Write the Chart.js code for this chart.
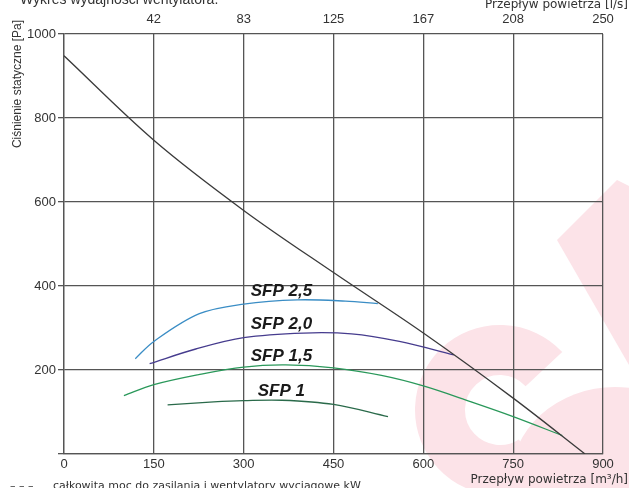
<!DOCTYPE html>
<html>
<head>
<meta charset="utf-8">
<script src="https://cdn.jsdelivr.net/npm/chart.js@4"></script>
<style>
  html, body { margin: 0; padding: 0; background: #fff; }
  #fanChart { display: block; }
</style>
</head>
<body>
<canvas id="fanChart" width="629" height="488"></canvas>
<script>
// Tick values
const flowTicks = [0, 150, 300, 450, 600, 750, 900];          // m3/h
const flowLsLabels = ['42', '83', '125', '167', '208', '250'];  // l/s, same positions
const pressureTicks = [0, 200, 400, 600, 800, 1000];           // Pa

// System (fan) curve
const systemFlow = [0, 150, 300, 450, 600, 750, 870];
const systemPressure = [948, 747, 580, 432, 288, 133, 0];

// SFP curves
const sfpNames = ['SFP 2,5', 'SFP 2,0', 'SFP 1,5', 'SFP 1'];
const sfp25Flow = [119, 150, 226, 300, 390, 470, 524];
const sfp25Pressure = [227, 268, 334, 357, 367, 364, 358];
const sfp20Flow = [143, 220, 300, 400, 480, 560, 651];
const sfp20Pressure = [215, 250, 277, 288, 286, 268, 236];
const sfp15Flow = [100, 150, 225, 300, 370, 450, 530, 600, 680, 750, 832];
const sfp15Pressure = [139, 165, 189, 207, 212, 205, 187, 162, 124, 89, 44];
const sfp10Flow = [173, 250, 300, 364, 450, 541];
const sfp10Pressure = [117, 124, 127, 128, 118, 89];

const toPoints = (xs, ys) => xs.map((x, i) => ({ x: x, y: ys[i] }));

const lineDefaults = {
    borderWidth: 1.3,
    pointRadius: 0,
    fill: false,
    tension: 0.35
};

// light pink logo in the background
const watermark = {
    id: 'watermark',
    beforeDraw(chart) {
        const ctx = chart.ctx;
        ctx.save();
        ctx.fillStyle = '#fff';
        ctx.fillRect(0, 0, chart.width, chart.height);
        ctx.fillStyle = '#fce3e8';
        ctx.strokeStyle = '#fce3e8';
        ctx.lineWidth = 50;
        ctx.beginPath();
        ctx.arc(500, 410, 60, -0.75, 1.0, true);
        ctx.stroke();
        ctx.beginPath();
        ctx.ellipse(615, 482, 105, 95, 0, 0, Math.PI * 2);
        ctx.fill();
        ctx.beginPath();
        ctx.moveTo(557, 240);
        ctx.lineTo(617, 180);
        ctx.lineTo(629, 186);
        ctx.lineTo(629, 365);
        ctx.closePath();
        ctx.fill();
        ctx.restore();
    }
};

// SFP names above each curve's peak
const sfpLabels = {
    id: 'sfpLabels',
    afterDatasetsDraw(chart) {
        const ctx = chart.ctx;
        const xs = chart.scales.x;
        const ys = chart.scales.y;
        const labelFlow = 363;
        ctx.save();
        ctx.font = 'italic bold 17px "Liberation Sans", Arial, sans-serif';
        ctx.fillStyle = '#1a1a1a';
        ctx.textAlign = 'center';
        ctx.textBaseline = 'middle';
        chart.data.datasets.forEach((ds) => {
            if (!sfpNames.includes(ds.label)) return;
            const peak = Math.max(...ds.data.map(p => p.y));
            ctx.fillText(ds.label, xs.getPixelForValue(labelFlow), ys.getPixelForValue(peak) - 9);
        });
        ctx.restore();
    }
};

// axis titles and notes around the plot
const outerTexts = {
    id: 'outerTexts',
    afterDraw(chart) {
        const ctx = chart.ctx;
        ctx.save();
        ctx.fillStyle = '#333';

        ctx.font = '14px "Liberation Sans", Arial, sans-serif';
        ctx.textAlign = 'left';
        ctx.textBaseline = 'alphabetic';
        ctx.fillText('Wykres wydajności wentylatora.', 20, 4);

        ctx.font = '12px "DejaVu Sans", sans-serif';
        ctx.textAlign = 'right';
        ctx.textBaseline = 'middle';
        ctx.fillText('Przepływ powietrza [l/s]', 628, 5);
        ctx.fillText('Przepływ powietrza [m³/h]', 628, 480);

        ctx.font = '12px "Liberation Sans", Arial, sans-serif';
        ctx.save();
        ctx.translate(18, 20);
        ctx.rotate(-Math.PI / 2);
        ctx.textAlign = 'right';
        ctx.fillText('Ciśnienie statyczne [Pa]', 0, 0);
        ctx.restore();

        ctx.font = '11px "DejaVu Sans", sans-serif';
        ctx.textAlign = 'left';
        ctx.textBaseline = 'alphabetic';
        ctx.fillText('– – –', 10, 489);
        ctx.fillText('całkowita moc do zasilania i wentylatory wyciągowe kW', 53, 489);
        ctx.restore();
    }
};

const gridColor = '#555';
const tickFont = { family: '"Liberation Sans", Arial, sans-serif', size: 13 };

new Chart(document.getElementById('fanChart').getContext('2d'), {
    type: 'line',
    data: {
        datasets: [
            Object.assign({ label: 'system', data: toPoints(systemFlow, systemPressure), borderColor: '#3a3a3a' }, lineDefaults),
            Object.assign({ label: sfpNames[0], data: toPoints(sfp25Flow, sfp25Pressure), borderColor: '#3a8dc5' }, lineDefaults),
            Object.assign({ label: sfpNames[1], data: toPoints(sfp20Flow, sfp20Pressure), borderColor: '#463c8e' }, lineDefaults),
            Object.assign({ label: sfpNames[2], data: toPoints(sfp15Flow, sfp15Pressure), borderColor: '#2a985a' }, lineDefaults),
            Object.assign({ label: sfpNames[3], data: toPoints(sfp10Flow, sfp10Pressure), borderColor: '#2a6a4a' }, lineDefaults)
        ]
    },
    options: {
        responsive: false,
        animation: false,
        layout: { padding: { right: 26 } },
        plugins: {
            legend: { display: false },
            tooltip: { enabled: false }
        },
        scales: {
            x: {
                type: 'linear',
                position: 'bottom',
                min: 0,
                max: 900,
                afterBuildTicks: (scale) => { scale.ticks = flowTicks.map(v => ({ value: v })); },
                afterFit: (scale) => { scale.height = 34; },
                grid: { color: gridColor, lineWidth: 1.3, drawTicks: false },
                border: { display: true, color: gridColor, width: 1.3 },
                ticks: { font: tickFont, color: '#333', padding: 3, maxRotation: 0 }
            },
            xTop: {
                type: 'linear',
                position: 'top',
                min: 0,
                max: 900,
                afterBuildTicks: (scale) => { scale.ticks = flowTicks.slice(1).map(v => ({ value: v })); },
                afterFit: (scale) => { scale.height = 34; },
                grid: { display: false, drawTicks: false },
                border: { display: false },
                ticks: {
                    font: tickFont,
                    color: '#333',
                    padding: 7,
                    maxRotation: 0,
                    callback: (v) => flowLsLabels[flowTicks.indexOf(v) - 1]
                }
            },
            y: {
                type: 'linear',
                min: 0,
                max: 1000,
                afterBuildTicks: (scale) => { scale.ticks = pressureTicks.map(v => ({ value: v })); },
                afterFit: (scale) => { scale.width = 64; },
                grid: { color: gridColor, lineWidth: 1.3, tickLength: 6 },
                border: { display: true, color: gridColor, width: 1.3 },
                ticks: {
                    font: tickFont,
                    color: '#333',
                    padding: 2,
                    callback: (v) => (v === 0 ? '' : v)
                }
            }
        }
    },
    plugins: [watermark, sfpLabels, outerTexts]
});
</script>
</body>
</html>
